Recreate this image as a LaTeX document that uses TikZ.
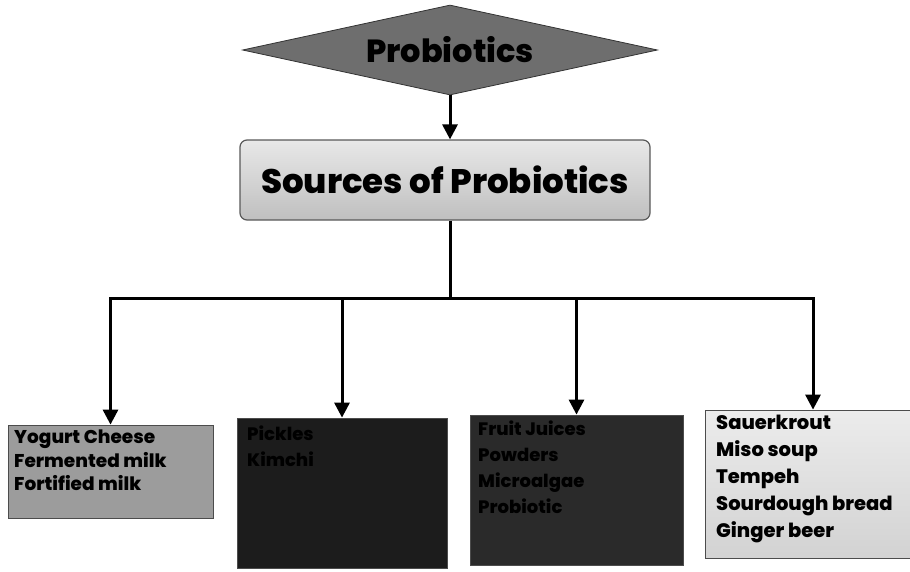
\documentclass[tikz,border=0pt]{standalone}
\usepackage{fontspec}
\setmainfont{Poppins}[BoldFont=* ExtraBold]
\usetikzlibrary{shapes.geometric,arrows.meta}
\definecolor{diafill}{HTML}{6E6E6E}
\definecolor{boxone}{HTML}{9C9C9C}
\definecolor{boxtwo}{HTML}{1C1C1C}
\definecolor{boxthree}{HTML}{2A2A2A}
\tikzset{
  conn/.style={line width=3pt, draw=black},
  arr/.style={conn, -{Triangle[length=15pt,width=15pt]}},
  srcbox/.style={rounded corners=7pt, draw=gray!70!black, line width=1.2pt,
    top color=gray!18, bottom color=gray!50, minimum width=410pt, minimum height=80pt,
    font=\bfseries\fontsize{34}{38}\selectfont, inner sep=0pt},
  catbox/.style={rectangle, draw=gray!60!black, line width=0.8pt, inner sep=0pt},
  cattext/.style={anchor=north west, align=left, inner sep=0pt},
}
\begin{document}
\begin{tikzpicture}[x=1pt,y=-1pt]
\useasboundingbox (0,0) rectangle (910,571);
% top diamond
\node[diamond, aspect=4.6, minimum width=415pt, minimum height=90pt, inner sep=0pt,
      fill=diafill, draw=gray!40!black, line width=0.8pt,
      font=\bfseries\fontsize{32}{34}\selectfont] (prob) at (450,50) {Probiotics};
% sources box
\node[srcbox] (src) at (445,180) {Sources of Probiotics};
% category boxes
\node[catbox, fill=boxone, minimum width=205pt, minimum height=93pt] (b1) at (110.5,471.5) {};
\node[catbox, fill=boxtwo, minimum width=210pt, minimum height=150pt] (b2) at (342,493) {};
\node[catbox, fill=boxthree, minimum width=213pt, minimum height=150pt] (b3) at (576.5,490) {};
\node[catbox, top color=gray!15, bottom color=gray!35, minimum width=205pt, minimum height=148pt] (b4) at (807.5,484) {};
% texts
\node[cattext, font=\bfseries\fontsize{18.5}{23.5}\selectfont, text=black] (t1) at (14,430)
  {Yogurt Cheese\\Fermented milk\\Fortified milk};
\node[cattext, font=\bfseries\fontsize{18}{26}\selectfont, text=black] (t2) at (247,426)
  {Pickles\\Kimchi};
\node[cattext, font=\bfseries\fontsize{18}{26}\selectfont, text=black] (t3) at (478,421)
  {Fruit Juices\\Powders\\Microalgae\\Probiotic};
\node[cattext, font=\bfseries\fontsize{19.5}{27}\selectfont, text=black] (t4) at (716,415)
  {Sauerkrout\\Miso soup\\Tempeh\\Sourdough bread\\Ginger beer};
% connectors
\draw[arr] (prob.south) -- (src.north -| prob.south);
\coordinate (bus) at (450,298);
\coordinate (j1) at (b1.north |- bus);
\coordinate (j2) at (b2.north |- bus);
\coordinate (j3) at (b3.north |- bus);
\coordinate (j4) at (813,298);
\draw[conn] (src.south -| bus) -- (bus);
\draw[conn, line cap=rect] (j1) -- (j4);
\draw[arr] (j1) -- (b1.north);
\draw[arr] (j2) -- (b2.north);
\draw[arr] (j3) -- (b3.north);
\draw[arr] (j4) -- (j4 |- b4.north);
\end{tikzpicture}
\end{document}
